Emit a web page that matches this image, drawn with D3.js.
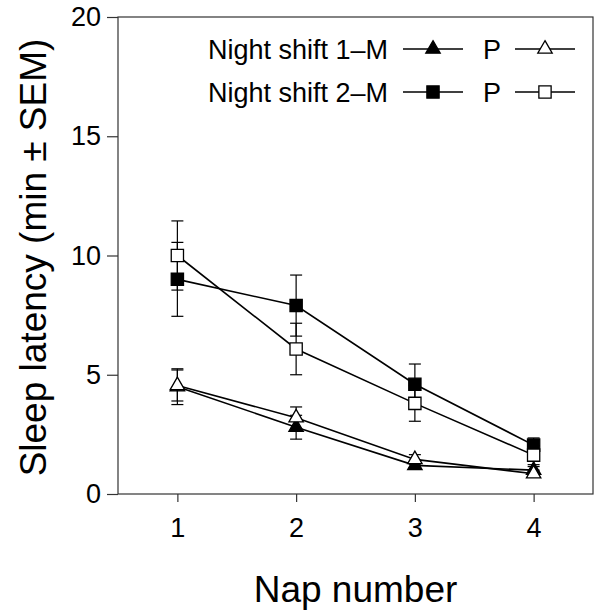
<!DOCTYPE html>
<html lang="en">
<head>
  <meta charset="UTF-8">
  <script src="https://cdn.jsdelivr.net/npm/d3@7"></script>
  <title>Sleep latency</title>
  <style>
    body { margin: 0; background: #fff; }
    text { font-family: "Liberation Sans", Arial, sans-serif; fill: #000; }
  </style>
</head>
<body>
  <script>
    const naps = [1, 2, 3, 4]
    const yTicks = [0, 5, 10, 15, 20]

    // mean and SEM per nap
    const ns1M = [4.5, 2.8, 1.2, 1.0]
    const ns1MErr = [0.75, 0.5, 0.15, 0.15]
    const ns1P = [4.55, 3.2, 1.45, 0.85]
    const ns1PErr = [0.65, 0.45, 0.2, 0.15]
    const ns2M = [9.0, 7.9, 4.6, 2.05]
    const ns2MErr = [1.55, 1.28, 0.85, 0.3]
    const ns2P = [10.0, 6.08, 3.8, 1.63]
    const ns2PErr = [1.45, 1.08, 0.75, 0.4]

    const series = [
      { values: ns1M, err: ns1MErr, shape: d3.symbolTriangle, fill: '#000' },
      { values: ns1P, err: ns1PErr, shape: d3.symbolTriangle, fill: '#fff' },
      { values: ns2M, err: ns2MErr, shape: d3.symbolSquare, fill: '#000' },
      { values: ns2P, err: ns2PErr, shape: d3.symbolSquare, fill: '#fff' }
    ]

    const margin = ({top: 17, right: 9, bottom: 122, left: 118})
    const width = 602, height = 616

    const x = d3.scaleLinear()
        .domain([0.5, 4.5])
        .range([margin.left, width - margin.right])
    const y = d3.scaleLinear()
        .domain([0, 20])
        .range([height - margin.bottom, margin.top])

    const svg = d3.select('body').append('svg')
        .attr('width', width)
        .attr('height', height)

    const symSize = s => s === d3.symbolTriangle ? 90 : 150

    // frame
    svg.append('rect')
        .attr('x', x.range()[0]).attr('y', y.range()[1])
        .attr('width', x.range()[1] - x.range()[0])
        .attr('height', y.range()[0] - y.range()[1])
        .attr('fill', 'none').attr('stroke', '#333').attr('stroke-width', 1.2)

    const xAxis = g => g
        .attr('transform', `translate(0,${y(0)})`)
        .call(d3.axisBottom(x).tickValues(naps).tickSize(8).tickPadding(16).tickFormat(d3.format('d')))
        .call(g => g.select('.domain').remove())

    const yAxis = g => g
        .attr('transform', `translate(${x.range()[0]},0)`)
        .call(d3.axisLeft(y).tickValues(yTicks).tickSize(11).tickPadding(6))
        .call(g => g.select('.domain').remove())

    svg.append('g').call(xAxis)
    svg.append('g').call(yAxis)
    svg.selectAll('.tick line').attr('stroke', '#333').attr('stroke-width', 1.2)
    svg.selectAll('.tick text').style('font-size', '27px').attr('fill', '#000')

    // axis titles
    svg.append('text')
        .attr('x', (x.range()[0] + x.range()[1]) / 2)
        .attr('y', 602)
        .attr('text-anchor', 'middle')
        .style('font-size', '37px')
        .text('Nap number')

    svg.append('text')
        .attr('transform', `translate(46,${(y(0) + y(20)) / 2 + 2}) rotate(-90)`)
        .attr('text-anchor', 'middle')
        .style('font-size', '37px')
        .text('Sleep latency (min ± SEM)')

    const line = d3.line()
        .x((d, i) => x(naps[i]))
        .y(d => y(d))

    series.forEach(s => {
      const g = svg.append('g')
      // error bars
      s.values.forEach((v, i) => {
        const cx = x(naps[i])
        g.append('line')
            .attr('x1', cx).attr('x2', cx)
            .attr('y1', y(v - s.err[i])).attr('y2', y(v + s.err[i]))
            .attr('stroke', '#000').attr('stroke-width', 1.2)
        ;[v - s.err[i], v + s.err[i]].forEach(e => {
          g.append('line')
              .attr('x1', cx - 6).attr('x2', cx + 6)
              .attr('y1', y(e)).attr('y2', y(e))
              .attr('stroke', '#000').attr('stroke-width', 1.2)
        })
      })
      g.append('path')
          .datum(s.values)
          .attr('fill', 'none')
          .attr('stroke', '#000')
          .attr('stroke-width', 1.6)
          .attr('d', line)
      g.selectAll('path.pt')
        .data(s.values)
        .join('path')
          .attr('class', 'pt')
          .attr('transform', (d, i) => `translate(${x(naps[i])},${y(d)})`)
          .attr('d', d3.symbol(s.shape, symSize(s.shape)))
          .attr('fill', s.fill)
          .attr('stroke', '#000')
          .attr('stroke-width', 1.3)
    })

    // legend
    const legendRows = [
      { label: 'Night shift 1\u2013M', m: series[0], p: series[1], yy: 49 },
      { label: 'Night shift 2\u2013M', m: series[2], p: series[3], yy: 92 }
    ]
    legendRows.forEach(r => {
      const lg = svg.append('g')
      lg.append('text')
          .attr('x', 388).attr('y', r.yy + 10)
          .attr('text-anchor', 'end')
          .style('font-size', '27px')
          .text(r.label)
      lg.append('text')
          .attr('x', 483).attr('y', r.yy + 10)
          .style('font-size', '27px')
          .text('P')
      ;[[403, 463, r.m], [515, 575, r.p]].forEach(([a, b, s]) => {
        lg.append('line')
            .attr('x1', a).attr('x2', b).attr('y1', r.yy).attr('y2', r.yy)
            .attr('stroke', '#000').attr('stroke-width', 1.6)
        lg.append('path')
            .attr('transform', `translate(${(a + b) / 2},${r.yy})`)
            .attr('d', d3.symbol(s.shape, symSize(s.shape)))
            .attr('fill', s.fill)
            .attr('stroke', '#000')
            .attr('stroke-width', 1.3)
      })
    })
  </script>
</body>
</html>
